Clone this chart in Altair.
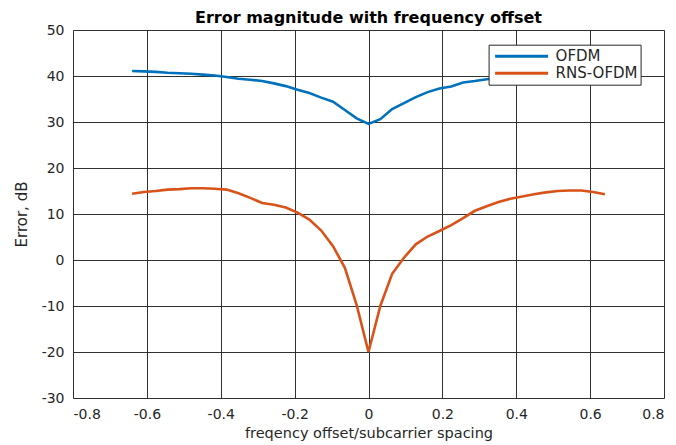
import altair as alt
import pandas as pd

x_vals = [round(-0.64 + 0.032 * i, 3) for i in range(41)]

ofdm = [41.1, 41.0, 40.9, 40.7, 40.6, 40.5, 40.3, 40.1, 39.8, 39.4, 39.2,
        38.9, 38.4, 37.8, 37.0, 36.3, 35.3, 34.4, 32.6, 30.8, 29.6,
        30.6, 32.8, 34.1, 35.4, 36.5, 37.3, 37.7, 38.6, 38.9, 39.3,
        39.6, 39.9, 40.2, 40.4, 40.6, 40.8, 40.9, 41.0, 41.1, 41.2]

rns_ofdm = [14.4, 14.8, 15.0, 15.3, 15.4, 15.6, 15.6, 15.5, 15.3, 14.5, 13.5,
            12.4, 12.0, 11.4, 10.3, 8.8, 6.4, 3.0, -1.7, -9.8, -20.0,
            -10.0, -3.0, 0.5, 3.4, 5.1, 6.3, 7.6, 9.1, 10.7, 11.7,
            12.6, 13.3, 13.8, 14.3, 14.7, 15.0, 15.1, 15.1, 14.8, 14.3]

series_names = ["OFDM", "RNS-OFDM"]
series_colors = ["#0072BD", "#D95319"]

x_ticks = [-0.8, -0.6, -0.4, -0.2, 0, 0.2, 0.4, 0.6, 0.8]
y_ticks = [-30, -20, -10, 0, 10, 20, 30, 40, 50]

rows = []
for name, vals in zip(series_names, [ofdm, rns_ofdm]):
    for xv, yv in zip(x_vals, vals):
        rows.append({"x": xv, "y": yv, "series": name})
df = pd.DataFrame(rows)

font = "DejaVu Sans"
txt = "#262626"

chart = alt.Chart(df).mark_line(strokeWidth=2.6).encode(
    x=alt.X("x:Q", scale=alt.Scale(domain=[-0.8, 0.8], nice=False),
            axis=alt.Axis(values=x_ticks, title="freqency offset/subcarrier spacing",
                          labelExpr="datum.value == 0 ? '0' : (datum.value < 0 ? '-' : '') + format(abs(datum.value), '.1f')",
                          grid=True, gridColor=txt, gridOpacity=0.95, gridWidth=1,
                          ticks=False, domain=False, labelFontSize=14, labelColor=txt,
                          labelPadding=9, titleFontSize=14.5, titleFont=font, labelFont=font,
                          titleFontWeight="normal", titleColor=txt, titlePadding=5)),
    y=alt.Y("y:Q", scale=alt.Scale(domain=[-30, 50], nice=False),
            axis=alt.Axis(values=y_ticks, title="Error, dB",
                          labelExpr="(datum.value < 0 ? '-' : '') + format(abs(datum.value), 'd')",
                          grid=True, gridColor=txt, gridOpacity=0.95, gridWidth=1,
                          ticks=False, domain=False, labelFontSize=14, labelColor=txt,
                          labelPadding=9, titleFontSize=15, titleFont=font, labelFont=font,
                          titleFontWeight="normal", titleColor=txt, titlePadding=12)),
    color=alt.Color("series:N", scale=alt.Scale(domain=series_names, range=series_colors),
                    legend=alt.Legend(title=None, orient="none", legendX=415.6, legendY=14.7,
                                      symbolType="stroke", symbolStrokeWidth=3, symbolSize=2809,
                                      symbolOffset=2, clipHeight=17, rowPadding=0,
                                      labelFont=font, labelFontSize=15, labelColor=txt,
                                      fillColor="white", strokeColor=txt, padding=3,
                                      labelOffset=6, offset=0)),
).properties(
    width=591, height=368,
    title=alt.TitleParams("Error magnitude with frequency offset", font=font, fontSize=16,
                          fontWeight="bold", color="black", anchor="middle", offset=0, dy=3),
    autosize=alt.AutoSizeParams(type="none"),
    padding={"left": 65, "top": 22, "right": 4, "bottom": 45},
).configure_view(stroke=txt, strokeWidth=1).configure(background="white")

chart.save("out.html", embed_options={"renderer": "svg", "actions": False})
